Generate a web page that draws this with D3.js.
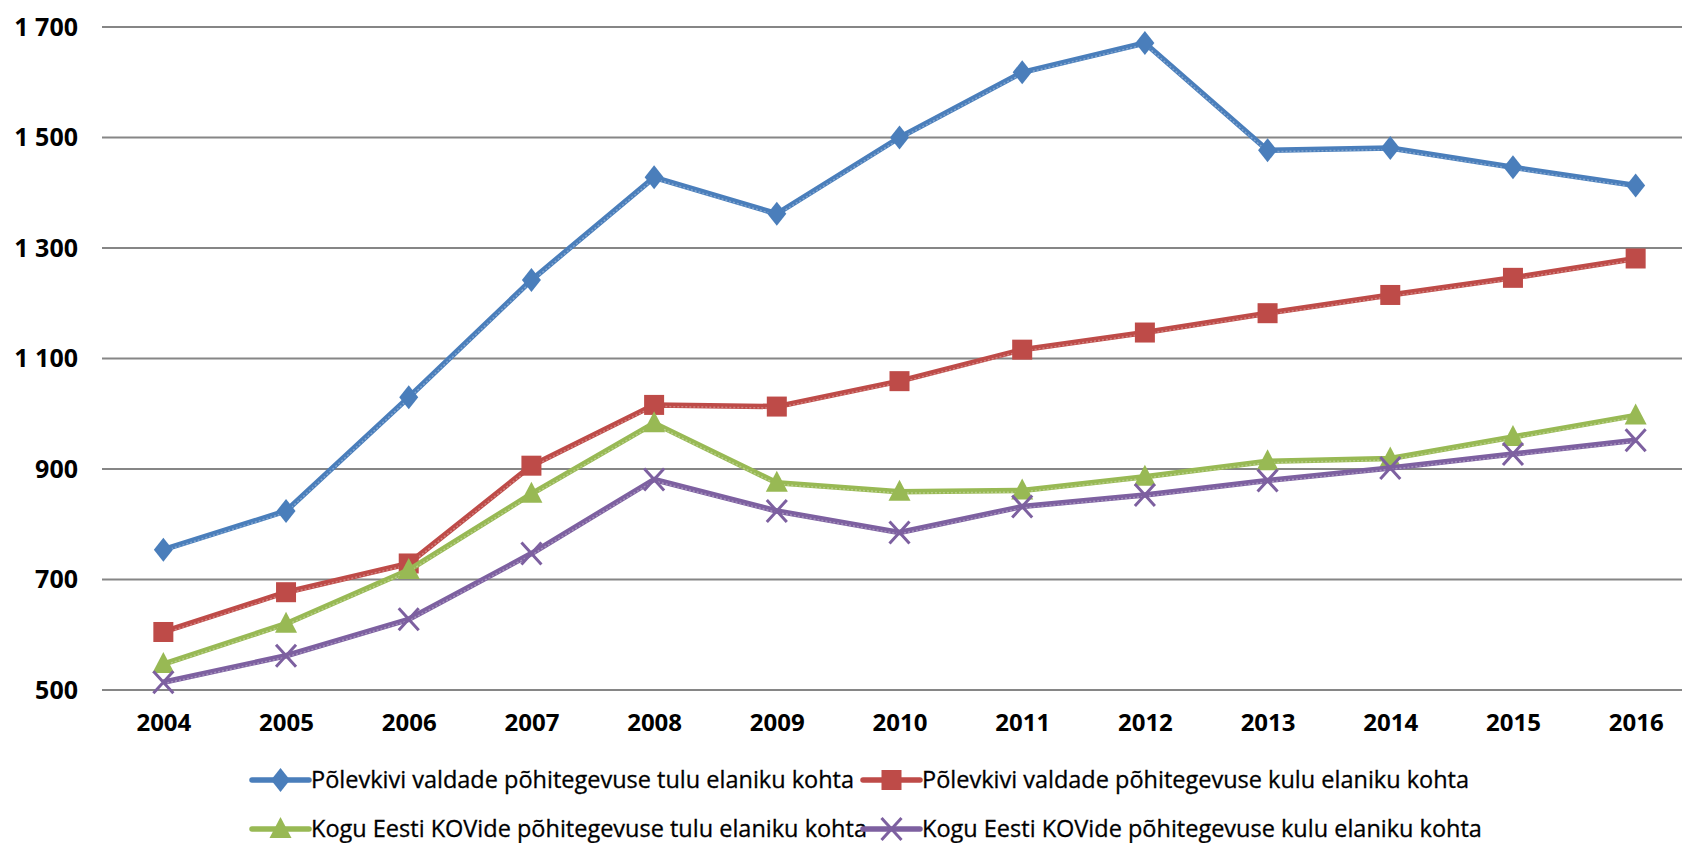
<!DOCTYPE html>
<html>
<head>
<meta charset="utf-8">
<script src="https://cdn.jsdelivr.net/npm/d3@7"></script>
<style>
  body { margin: 0; background: #fff; overflow: hidden; }
  text { font-family: "Open Sans", "DejaVu Sans", sans-serif; }
</style>
</head>
<body>
<svg id="chart" width="1682" height="843"></svg>
<script>
// Chart data
const years = ["2004", "2005", "2006", "2007", "2008", "2009", "2010", "2011", "2012", "2013", "2014", "2015", "2016"];
const yTicks = [500, 700, 900, 1100, 1300, 1500, 1700];

const tuluPolevkivi = [754, 824, 1030, 1242, 1428, 1362, 1500, 1618, 1671, 1477, 1481, 1446, 1413];
const kuluPolevkivi = [605, 677, 729, 906, 1016, 1013, 1059, 1116, 1147, 1182, 1215, 1246, 1281];
const tuluEesti = [547, 620, 717, 855, 983, 875, 859, 861, 886, 914, 919, 958, 997];
const kuluEesti = [514, 562, 628, 747, 881, 824, 785, 832, 853, 879, 902, 927, 952];

const seriesNames = [
    "Põlevkivi valdade põhitegevuse tulu elaniku kohta",
    "Põlevkivi valdade põhitegevuse kulu elaniku kohta",
    "Kogu Eesti KOVide põhitegevuse tulu elaniku kohta",
    "Kogu Eesti KOVide põhitegevuse kulu elaniku kohta"
];

const series = [
    { name: seriesNames[0], values: tuluPolevkivi, color: "#4A7EBB", marker: "diamond" },
    { name: seriesNames[1], values: kuluPolevkivi, color: "#BE4B48", marker: "square" },
    { name: seriesNames[2], values: tuluEesti, color: "#98B954", marker: "triangle" },
    { name: seriesNames[3], values: kuluEesti, color: "#7D60A0", marker: "x" }
];

const svg = d3.select("#chart");

// Plot area
const plotLeft = 102, plotRight = 1697, plotTop = 27, plotBottom = 690;

const x = d3.scalePoint().domain(years).range([plotLeft, plotRight]).padding(0.5);
const y = d3.scaleLinear().domain([500, 1700]).range([plotBottom, plotTop]);

const fmt = d3.formatLocale({ decimal: ",", thousands: " ", grouping: [3], currency: ["", ""] }).format(",d");

// Gridlines
svg.append("g")
    .selectAll("line")
    .data(yTicks)
    .join("line")
    .attr("x1", plotLeft)
    .attr("x2", plotRight)
    .attr("y1", d => y(d))
    .attr("y2", d => y(d))
    .attr("stroke", "#868686")
    .attr("stroke-width", 2);

// Y axis labels
const yAxis = svg.append("g")
    .attr("transform", `translate(${plotLeft - 24},0)`)
    .call(d3.axisLeft(y).tickValues(yTicks).tickFormat(fmt).tickSize(0).tickPadding(0));
yAxis.select(".domain").remove();
yAxis.selectAll("text")
    .attr("font-size", 25)
    .attr("font-weight", "bold")
    .attr("fill", "#000")
    .style("font-family", "'Open Sans', sans-serif");

// X axis labels
const xAxis = svg.append("g")
    .attr("transform", `translate(0,${plotBottom + 24})`)
    .call(d3.axisBottom(x).tickSize(0).tickPadding(0));
xAxis.select(".domain").remove();
xAxis.selectAll("text")
    .attr("font-size", 24)
    .attr("font-weight", "bold")
    .attr("fill", "#000")
    .style("font-family", "'Open Sans', sans-serif");

// Marker drawing
function drawMarker(sel, type, color) {
    if (type === "diamond") {
        sel.append("path")
            .attr("d", "M0,-12L9.5,0L0,12L-9.5,0Z")
            .attr("fill", color);
    } else if (type === "square") {
        sel.append("rect")
            .attr("x", -10).attr("y", -10)
            .attr("width", 20).attr("height", 20)
            .attr("fill", color);
    } else if (type === "triangle") {
        sel.append("path")
            .attr("d", "M0,-12L11,9L-11,9Z")
            .attr("fill", color);
    } else if (type === "x") {
        sel.append("path")
            .attr("d", "M-10,-11L10,11M-10,11L10,-11")
            .attr("stroke", color)
            .attr("stroke-width", 3);
    }
}

const line = d3.line()
    .x((d, i) => x(years[i]))
    .y(d => y(d));

// Lines and markers
series.forEach(s => {
    const g = svg.append("g");
    g.append("path")
        .datum(s.values)
        .attr("d", line)
        .attr("fill", "none")
        .attr("stroke", s.color)
        .attr("stroke-width", 5.5)
        .attr("stroke-linejoin", "round");
    // faint lighter stripe like the original's shadow effect
    g.append("path")
        .datum(s.values)
        .attr("d", line)
        .attr("fill", "none")
        .attr("stroke", "#fff")
        .attr("stroke-opacity", 0.3)
        .attr("stroke-width", 1.5)
        .attr("stroke-dasharray", "2,2")
        .attr("transform", "translate(0,1.5)");
    g.selectAll("g.pt")
        .data(s.values)
        .join("g")
        .attr("class", "pt")
        .attr("transform", (d, i) => `translate(${x(years[i])},${y(d)})`)
        .each(function () { drawMarker(d3.select(this), s.marker, s.color); });
});

// Legend
const legendPos = [
    { x: 252, y: 780 },
    { x: 863, y: 780 },
    { x: 252, y: 829 },
    { x: 863, y: 829 }
];

series.forEach((s, i) => {
    const p = legendPos[i];
    const g = svg.append("g").attr("transform", `translate(${p.x},${p.y})`);
    g.append("line")
        .attr("x1", 0).attr("x2", 57)
        .attr("y1", 0).attr("y2", 0)
        .attr("stroke", s.color)
        .attr("stroke-width", 5.5)
        .attr("stroke-linecap", "round");
    const m = g.append("g").attr("transform", "translate(28.5,0)");
    drawMarker(m, s.marker, s.color);
    g.append("text")
        .attr("x", 59)
        .attr("y", 0)
        .attr("dy", "0.35em")
        .attr("font-size", 23.5)
        .attr("fill", "#000")
        .attr("stroke", "#000")
        .attr("stroke-width", 0.3)
        .text(s.name);
});
</script>
</body>
</html>
